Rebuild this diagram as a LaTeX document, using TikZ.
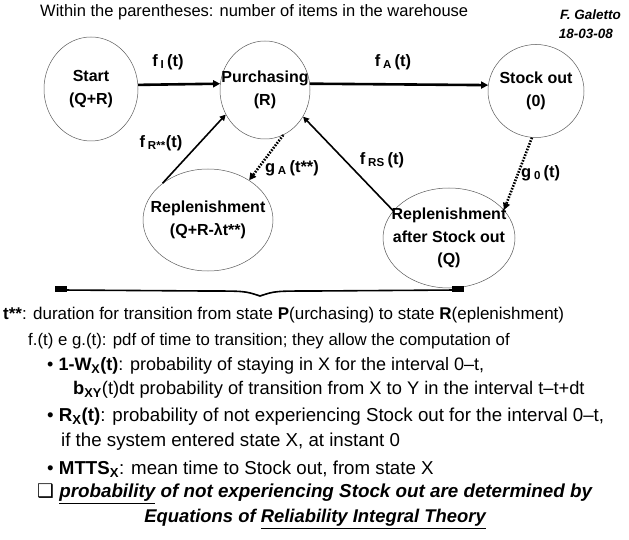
\documentclass[tikz,border=0pt]{standalone}
\usepackage{fontspec}
\setmainfont{Liberation Sans}
\newfontfamily\boxfont{DejaVu Sans}
\usetikzlibrary{arrows.meta,shapes.geometric}
\definecolor{stateline}{HTML}{5A5A5A}

\begin{document}
\begin{tikzpicture}[
  x=1pt,
  y=-1pt,
  every node/.style={inner sep=0pt},
  state/.style={ellipse, draw=stateline, line width=0.5pt, align=center,
                inner sep=-45pt, font=\fontsize{16}{22.5}\selectfont\bfseries},
  flow/.style={line width=2.6pt, -{Triangle[length=7pt,width=7pt]}},
  thinflow/.style={line width=1.6pt, -{Triangle[length=6pt,width=6pt]}},
  dotflow/.style={line width=2.6pt, dash pattern=on 1.6pt off 1.4pt,
                  -{Triangle[length=7pt,width=7pt]}},
  rate/.style={font=\fontsize{16.5}{18}\selectfont\bfseries},
  body/.style={anchor=west, font=\fontsize{17}{19}\selectfont},
  bigbody/.style={anchor=west, font=\fontsize{18.7}{20}\selectfont},
  claim/.style={font=\fontsize{18.8}{21}\selectfont\bfseries\itshape},
  author/.style={anchor=east, font=\fontsize{13.5}{15}\selectfont\bfseries\itshape}
]
  \useasboundingbox (0,0) rectangle (629,540);

  % ---- heading -----------------------------------------------------------
  \node[anchor=west, font=\fontsize{16.5}{18}\selectfont] (title) at (40,12)
    {Within the parentheses: number of items in the warehouse};
  \node[author] (author) at (621,15) {F. Galetto};
  \node[author] (date) at (613,34) {18-03-08};

  % ---- the five states ---------------------------------------------------
  \node[state, minimum width=94, minimum height=104] (start) at (91,89)
    {Start\\(Q+R)};
  \node[state, minimum width=90, minimum height=98] (purch) at (265,90)
    {Purchasing\\(R)};
  \node[state, minimum width=96, minimum height=93] (stock) at (536,91)
    {Stock out\\(0)};
  \node[state, minimum width=130, minimum height=102] (repl) at (208,220)
    {Replenishment\\(Q+R-λt**)};
  \node[state, minimum width=132, minimum height=100] (after) at (449,238)
    {Replenishment\\after Stock out\\(Q)};

  % ---- transitions -------------------------------------------------------
  \draw[flow] (start.5) -- (purch.172);
  \draw[flow] (purch.8) -- (stock.173);
  \draw[thinflow] (repl.141) -- (purch.212);
  \draw[dotflow] (purch.292) -- (repl.44);
  \draw[thinflow] (after.154) -- (purch.325);
  \draw[dotflow] (stock.265) -- (after.27);

  \node[rate] (rate-i) at (168,62) {f\,\textsubscript{I}\,(t)};
  \node[rate] (rate-a) at (393,62) {f\,\textsubscript{A}\,(t)};
  \node[rate] (rate-r) at (161,143) {f\,\textsubscript{R**}(t)};
  \node[rate] (rate-ga) at (292,168) {g\,\textsubscript{A}\,(t**)};
  \node[rate] (rate-rs) at (382,160) {f\,\textsubscript{RS}\,(t)};
  \node[rate, anchor=west] (rate-g0) at (521,173) {g\,\textsubscript{0}\,(t)};

  % ---- brace under the lower states ---------------------------------------
  \draw[line width=1.6pt] (62,290) -- (205,291)
    .. controls (245,291) .. (260,296) .. controls (275,291) .. (315,291)
    -- (456,290);
  \fill (55,285.5) rectangle (67,292);
  \fill (452,285.5) rectangle (464,292);

  % ---- notes -------------------------------------------------------------
  % two smaller lines on top, the list below in a larger size
  \node[body] (note) at (3,315) {\textbf{t**}: duration for transition from
    state \textbf{P}(urchasing) to state \textbf{R}(eplenishment)};
  \node[body, font=\fontsize{16.8}{19}\selectfont] (pdf) at (28,341)
    {f.(t) e g.(t): pdf of time to transition; they allow the computation of};
  \node[bigbody, font=\fontsize{18}{20}\selectfont] (item-w) at (47,366)
    {• \textbf{1-W\textsubscript{X}(t)}: probability of staying in X for the
    interval 0–t,};
  \node[bigbody, font=\fontsize{18.3}{20}\selectfont] (item-b) at (73,390)
    {\textbf{b\textsubscript{XY}}(t)dt probability of transition from X to Y
    in the interval t–t+dt};
  \node[bigbody] (item-r) at (47,417) {• \textbf{R\textsubscript{X}(t)}:
    probability of not experiencing Stock out for the interval 0–t,};
  \node[bigbody] (item-rb) at (61,442)
    {if the system entered state X, at instant 0};
  \node[bigbody] (item-m) at (47,469)
    {• \textbf{MTTS\textsubscript{X}}: mean time to Stock out, from state X};

  \node[claim, anchor=west] (claim) at (37,494) {{\boxfont\mdseries ❑}
    \underline{probability} of not experiencing Stock out are determined by};
  \node[claim, font=\fontsize{18.4}{21}\selectfont\bfseries\itshape]
    (claim-eq) at (315,519)
    {Equations of \underline{Reliability Integral Theory}};
\end{tikzpicture}
\end{document}
